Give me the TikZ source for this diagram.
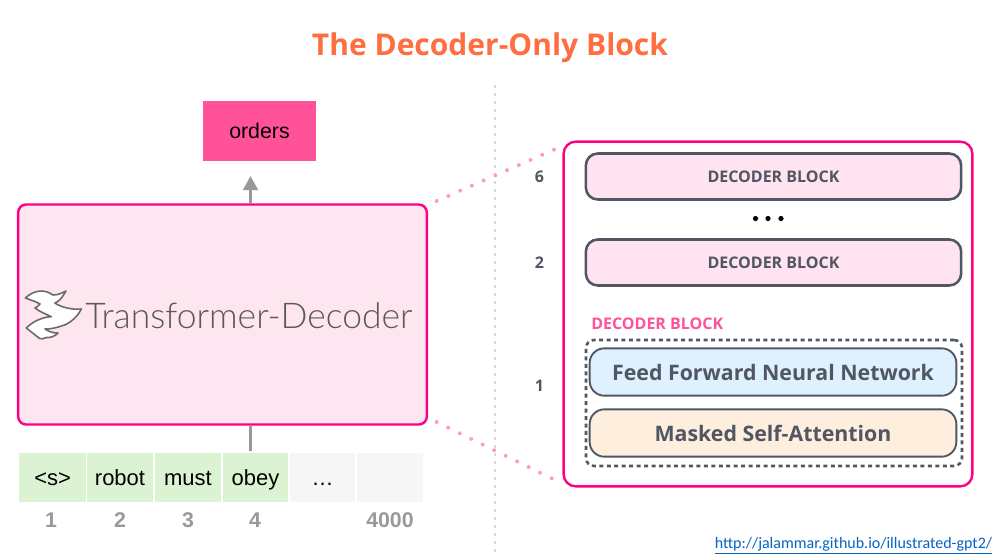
\documentclass[tikz,border=0pt]{standalone}
\usepackage{fontspec}
\setmainfont{Liberation Sans}
\newfontfamily\blockfont{Open Sans}
\newfontfamily\logofont{Lato Light}
\newfontfamily\linkfont{Carlito}
\usetikzlibrary{arrows.meta}
\definecolor{hotpink}{HTML}{FF0080}
\definecolor{softpink}{HTML}{FDE6EF}
\definecolor{lightpink}{HTML}{FFE3F1}
\definecolor{outpink}{HTML}{FF5299}
\definecolor{dotpink}{HTML}{FF9CC6}
\definecolor{slategrey}{HTML}{505662}
\definecolor{wordgreen}{HTML}{DBF3D2}
\definecolor{wordgrey}{HTML}{F6F6F6}
\definecolor{numgrey}{HTML}{999999}
\definecolor{titleorange}{HTML}{FF6E40}
\definecolor{ffnnblue}{HTML}{DFF0FF}
\definecolor{attnorange}{HTML}{FEEEDE}
\definecolor{linkblue}{HTML}{0563C1}
\tikzset{
  wordbox/.style={minimum height=37pt,inner sep=0pt,text height=14.6pt,text depth=3pt,font=\fontsize{16.5}{16.5}\selectfont},
  numtext/.style={numgrey,font=\bfseries\fontsize{16}{16}\selectfont},
  sidenum/.style={slategrey,font=\blockfont\bfseries\fontsize{12}{12}\selectfont},
  decblock/.style={draw=slategrey,line width=1.9pt,fill=lightpink,rounded corners=9pt,minimum width=281.5pt,minimum height=34.5pt,inner sep=0pt,text=slategrey,font=\blockfont\bfseries\fontsize{12}{12}\selectfont},
  layerblock/.style={draw=slategrey,line width=1.4pt,rounded corners=11pt,minimum width=275pt,minimum height=35.5pt,inner sep=0pt,text=slategrey,font=\blockfont\bfseries\fontsize{16}{18}\selectfont},
  dotline/.style={dotpink,line width=3pt,line cap=round,dash pattern=on 0pt off 9.6pt},
}
\begin{document}
\begin{tikzpicture}[x=0.75pt,y=-0.75pt]
  \useasboundingbox (0,0) rectangle (999,558);
  \node[text=titleorange,font=\blockfont\bfseries\fontsize{22.5}{28}\selectfont] (title) at (490,48) {The Decoder-Only Block};

  % dotted divider
  \draw[black!15,line width=2.2pt,dash pattern=on 1.9pt off 4.1pt] (495,85) -- (495,552);

  % left side
  \node[fill=outpink,minimum width=84.5pt,minimum height=45.5pt,inner sep=0pt,text height=14.6pt,text depth=3pt,font=\fontsize{16}{16}\selectfont] (orders) at (259.5,131) {orders};
  \node[draw=hotpink,line width=1.8pt,fill=softpink,rounded corners=6pt,minimum width=306.5pt,minimum height=165pt] (decoder) at (222.5,314.5) {};
  \node[text=black!65,font=\logofont\fontsize{26.6}{30}\selectfont,anchor=west,inner sep=0pt] (decname) at (85,316) {Transformer-Decoder};
  % logo
  \draw[black!58,line width=1.2pt,fill=white,line join=round] (25.3,298) .. controls (33,291) and (43,288) .. (53,295) .. controls (58,295) and (62,293) .. (66,291) .. controls (63,296) and (60,301) .. (55,303) .. controls (60,307) and (72,310) .. (81.3,309) .. controls (78,316) and (70,324) .. (61.3,326) .. controls (56,328) and (50,329) .. (45,329) .. controls (49,332) and (54,333) .. (58,333) .. controls (55,336) and (51,338) .. (46.3,337.5) .. controls (44,339) and (41,339) .. (39.7,338.5) -- (26.3,328) .. controls (32,322) and (42,317) .. (51.3,316.7) .. controls (46,314) and (40,312) .. (35,308) .. controls (37,307) and (38,306) .. (40,304) .. controls (35,301) and (30,300) .. cycle;

  \node[wordbox,fill=wordgreen,minimum width=50pt] (w1) at (52.7,477.5) {<s>};
  \node[wordbox,fill=wordgreen,minimum width=49.5pt] (w2) at (120,477.5) {robot};
  \node[wordbox,fill=wordgreen,minimum width=49.5pt] (w3) at (188,477.5) {must};
  \node[wordbox,fill=wordgreen,minimum width=49pt] (w4) at (255.5,477.5) {obey};
  \node[wordbox,fill=wordgrey,minimum width=49pt] (w5) at (322.5,477.5) {\dots};
  \node[wordbox,fill=wordgrey,minimum width=49.5pt] (w6) at (390,477.5) {};
  \node[numtext] (n1) at (51,520) {1};
  \node[numtext] (n2) at (120,520) {2};
  \node[numtext] (n3) at (188,520) {3};
  \node[numtext] (n4) at (255,520) {4};
  \node[numtext] (n6) at (390,520) {4000};

  \coordinate (inend) at (250.5,451);
  \coordinate (outtop) at (250.5,176);
  \draw[numgrey,line width=2.2pt] (inend) -- (decoder.south -| inend);
  \draw[numgrey,line width=2.2pt,-{Triangle[length=10.5pt,width=11pt]}] (decoder.north -| outtop) -- (outtop);

  % right side
  \node[draw=hotpink,line width=1.8pt,rounded corners=9pt,minimum width=306.5pt,minimum height=258.5pt] (stack) at (768,314) {};
  \node[decblock] (block6) at (773.5,176.5) {DECODER BLOCK};
  \node[decblock] (block2) at (773.5,262.5) {DECODER BLOCK};
  \foreach \i in {755.5,768,781}{\fill (\i,218.5) circle (2.6);}
  \node[sidenum] (num6) at (539.5,177) {6};
  \node[sidenum] (num2) at (539.5,263) {2};
  \node[sidenum] (num1) at (539.5,386) {1};
  \node[text=outpink,font=\blockfont\bfseries\fontsize{12}{12}\selectfont,anchor=west,inner sep=0pt] (blocklabel) at (591,323.5) {DECODER BLOCK};
  \node[draw=slategrey,line width=1.9pt,dash pattern=on 3pt off 2.6pt,rounded corners=6pt,minimum width=282pt,minimum height=94.5pt] (dashbox) at (774,403) {};
  \node[layerblock,fill=ffnnblue] (ffnn) at (773,372) {Feed Forward Neural Network};
  \node[layerblock,fill=attnorange] (selfatt) at (773,433) {Masked Self-Attention};

  \coordinate (zoomtop) at (555.5,149);
  \coordinate (zoomtopl) at (436.7,201);
  \coordinate (zoombot) at (553,479);
  \coordinate (zoombotl) at (436.7,422);
  \draw[dotline] (zoomtopl) -- (zoomtop);
  \draw[dotline] (zoombotl) -- (zoombot);

  \node[text=linkblue,font=\linkfont\fontsize{12}{12}\selectfont,inner sep=0pt] (link) at (853.5,546) {\underline{http://jalammar.github.io/illustrated-gpt2/}};
\end{tikzpicture}
\end{document}
